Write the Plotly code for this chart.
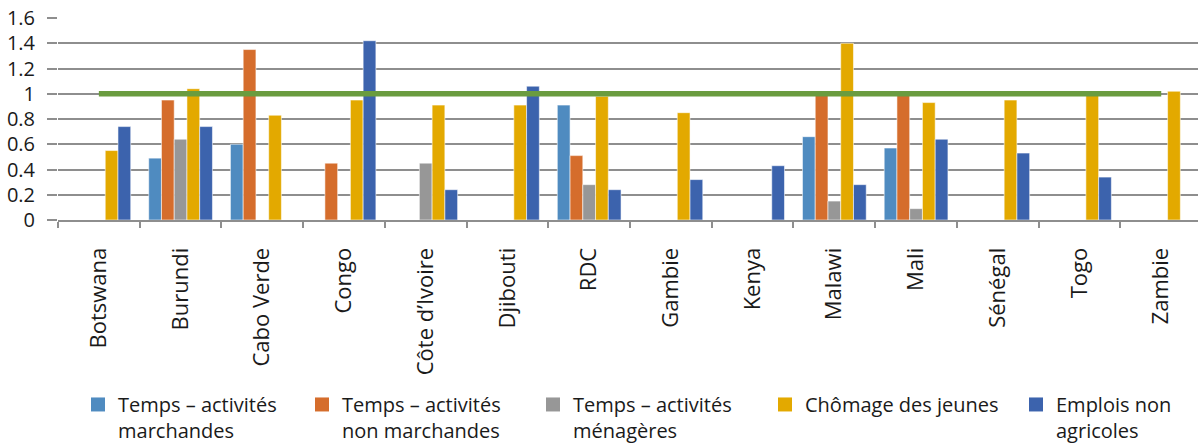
import plotly.graph_objects as go

countries = ["Botswana", "Burundi", "Cabo Verde", "Congo", "Côte d’Ivoire", "Djibouti",
             "RDC", "Gambie", "Kenya", "Malawi", "Mali", "Sénégal", "Togo", "Zambie"]

temps_marchandes = [None, 0.49, 0.60, None, None, None, 0.91, None, None, 0.66, 0.57, None, None, None]
temps_non_marchandes = [None, 0.95, 1.35, 0.45, None, None, 0.51, None, None, 1.01, 1.01, None, None, None]
temps_menageres = [None, 0.64, None, None, 0.45, None, 0.28, None, None, 0.15, 0.09, None, None, None]
chomage_jeunes = [0.55, 1.04, 0.83, 0.95, 0.91, 0.91, 0.98, 0.85, None, 1.40, 0.93, 0.95, 0.99, 1.02]
emplois_non_agricoles = [0.74, 0.74, None, 1.42, 0.24, 1.06, 0.24, 0.32, 0.43, 0.28, 0.64, 0.53, 0.34, None]
parity = [1.0] * len(countries)

series = [
    ("Temps – activités<br>marchandes", temps_marchandes, "#4f8bc0"),
    ("Temps – activités<br>non marchandes", temps_non_marchandes, "#d56d2c"),
    ("Temps – activités<br>ménagères", temps_menageres, "#979797"),
    ("Chômage des jeunes", chomage_jeunes, "#e3a900"),
    ("Emplois non<br>agricoles", emplois_non_agricoles, "#3c63ad"),
]

# left edge (px) of each legend entry along the bottom row
legend_x_px = [78, 302, 533, 765, 1016]

FONT = "Open Sans"
GRID = "#8e8e8e"
W, H = 1198, 443

fig = go.Figure()
for name, vals, color in series:
    fig.add_trace(go.Bar(
        x=countries, y=vals, name=name, showlegend=False,
        marker=dict(color=color, line=dict(color="rgba(255,255,255,0.55)", width=1)),
    ))

# legend keys: square swatches, one legend box per entry
legend_ids = ["legend"] + [f"legend{i}" for i in range(2, len(series) + 1)]
for (name, vals, color), lid in zip(series, legend_ids):
    fig.add_trace(go.Scatter(
        x=[None], y=[None], name=name, mode="markers", legend=lid,
        marker=dict(symbol="square", size=14, color=color),
    ))

fig.add_trace(go.Scatter(
    x=countries, y=parity, mode="lines", showlegend=False,
    line=dict(color="#6a9c3f", width=5.5), hoverinfo="skip",
))

legend_style = dict(
    orientation="h", xref="container", yref="container",
    y=0.131, xanchor="left", yanchor="top",
    valign="top", font=dict(size=20), itemwidth=30,
    bgcolor="rgba(0,0,0,0)",
)
layout_legends = {
    lid: dict(legend_style, x=px / W) for lid, px in zip(legend_ids, legend_x_px)
}

fig.update_layout(
    width=W, height=H,
    margin=dict(l=58, r=0, t=18, b=223),
    paper_bgcolor="white", plot_bgcolor="white",
    barmode="group", bargap=0.22, bargroupgap=0,
    font=dict(family=FONT, size=18, color="#1a1a1a"),
    **layout_legends,
)

fig.update_xaxes(
    type="category", range=[-0.5, 13.45],
    showline=True, linecolor=GRID, linewidth=2,
    ticks="outside", tickson="boundaries", ticklen=6, tickwidth=2, tickcolor=GRID,
    tickangle=-90, tickfont=dict(size=22), ticklabelstandoff=17,
    showgrid=False,
)

fig.update_yaxes(
    range=[0, 1.6], dtick=0.2, tick0=0,
    showgrid=True, gridcolor=GRID, gridwidth=2,
    zeroline=False, showline=False,
    ticks="outside", ticklen=10, tickwidth=2, tickcolor=GRID,
    tickfont=dict(size=20), ticklabelstandoff=8,
)

fig.write_html("out.html")
